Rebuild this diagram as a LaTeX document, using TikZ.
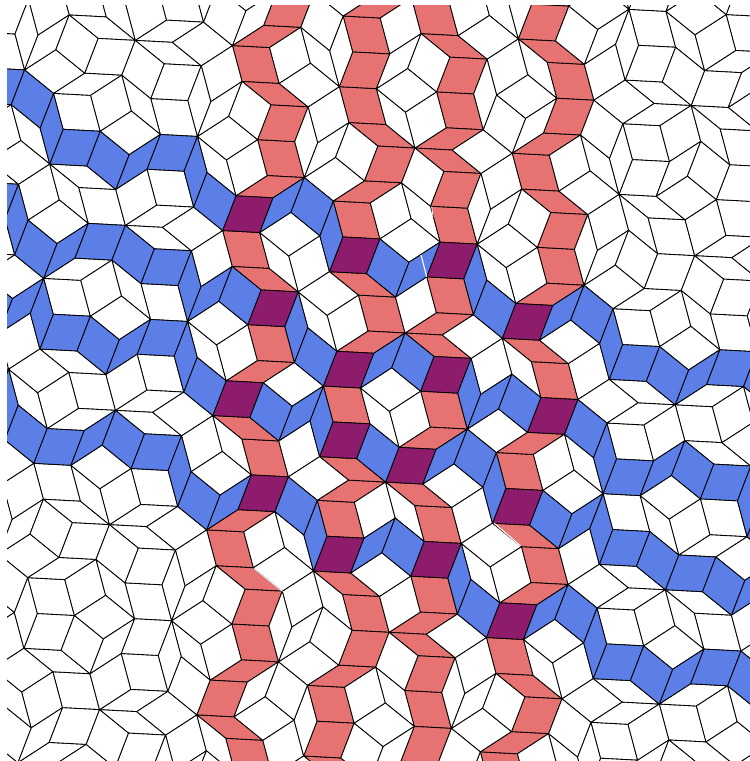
\documentclass[tikz,border=0pt]{standalone}
\usepackage{tikz}
\definecolor{rib1}{HTML}{E77272}
\definecolor{rib2}{HTML}{5B7FE6}
\definecolor{rib3}{HTML}{8D1C6C}
\tikzset{tile/.style={draw=black,line width=0.85pt,line join=round},gapedge/.style={draw=white,line width=1.1pt}}
% pentagrid data (screen axes, y down)
\foreach \j/\g in {0/0,1/0.575,2/0.05,3/0.34,4/0}{
  \pgfmathsetmacro\cx{cos(3.05+72*\j)}
  \pgfmathsetmacro\cy{sin(3.05+72*\j)}
  \expandafter\xdef\csname ex\j\endcsname{\cx}
  \expandafter\xdef\csname ey\j\endcsname{\cy}
  \expandafter\xdef\csname gm\j\endcsname{\g}
}
\newcommand\calcK[1]{%
  \ifnum#1=\fa\relax\expandafter\edef\csname K#1\endcsname{\kr}%
  \else\ifnum#1=\fb\relax\expandafter\edef\csname K#1\endcsname{\ks}%
  \else
    \pgfmathsetmacro\tmpK{ceil(\xx*\csname ex#1\endcsname+\yy*\csname ey#1\endcsname+\csname gm#1\endcsname)}%
    \expandafter\edef\csname K#1\endcsname{\tmpK}%
  \fi\fi}
\begin{document}
\begin{tikzpicture}
\useasboundingbox (0pt,0pt) rectangle (750pt,-761pt);
\clip (7pt,-5.7pt) rectangle (750pt,-760pt);
\begin{scope}[shift={(273.1pt,-197.8pt)},x=37.2pt,y=-37.2pt]
\foreach \fa in {0,1,2,3}{
 \pgfmathtruncatemacro\fan{\fa+1}
 \foreach \fb in {\fan,...,4}{
  \edef\eax{\csname ex\fa\endcsname}\edef\eay{\csname ey\fa\endcsname}
  \edef\ebx{\csname ex\fb\endcsname}\edef\eby{\csname ey\fb\endcsname}
  \edef\gax{\csname gm\fa\endcsname}\edef\gbx{\csname gm\fb\endcsname}
  \pgfmathsetmacro\dett{\eax*\eby-\eay*\ebx}
  \foreach \kr in {-10,...,10}{
   \foreach \ks in {-10,...,10}{
    \pgfmathsetmacro\xx{((\kr-\gax)*\eby-(\ks-\gbx)*\eay)/\dett}
    \pgfmathsetmacro\yy{(-(\kr-\gax)*\ebx+(\ks-\gbx)*\eax)/\dett}
    \pgfmathtruncatemacro\inside{and(and(\xx>-4.5,\xx<7),and(\yy>-3.8,\yy<8))}
    \ifnum\inside=1
      \calcK{0}\calcK{1}\calcK{2}\calcK{3}\calcK{4}
      \pgfmathsetmacro\bx{\csname K0\endcsname*\csname ex0\endcsname+\csname K1\endcsname*\csname ex1\endcsname+\csname K2\endcsname*\csname ex2\endcsname+\csname K3\endcsname*\csname ex3\endcsname+\csname K4\endcsname*\csname ex4\endcsname}
      \pgfmathsetmacro\by{\csname K0\endcsname*\csname ey0\endcsname+\csname K1\endcsname*\csname ey1\endcsname+\csname K2\endcsname*\csname ey2\endcsname+\csname K3\endcsname*\csname ey3\endcsname+\csname K4\endcsname*\csname ey4\endcsname}
      \def\isred{0}\def\isblue{0}
      \ifnum\fa=0 \ifnum\kr>-1 \ifnum\kr<4 \def\isred{1}\fi\fi\fi
      \ifnum\fb=4 \ifnum\ks>-4 \ifnum\ks<1 \def\isblue{1}\fi\fi\fi
      \def\tc{white}
      \ifnum\isred=1 \def\tc{rib1}\fi
      \ifnum\isblue=1 \def\tc{rib2}\fi
      \ifnum\isred=1 \ifnum\isblue=1 \def\tc{rib3}\fi\fi
      \draw[tile,fill=\tc] (\bx,\by) -- ++(\eax,\eay) -- ++(\ebx,\eby) -- ++(-\eax,-\eay) -- cycle;
    \fi
   }
  }
 }
}
\end{scope}
\draw[gapedge] (254pt,-568.3pt) -- (282.3pt,-591.3pt);
\draw[gapedge] (494.3pt,-523.3pt) -- (520.7pt,-546pt);
\draw[gapedge] (421pt,-255pt) -- (426.7pt,-276.7pt);
\draw[gapedge,line width=0.7pt] (431.7pt,-206.7pt) -- (433pt,-217pt);
\end{tikzpicture}
\end{document}
